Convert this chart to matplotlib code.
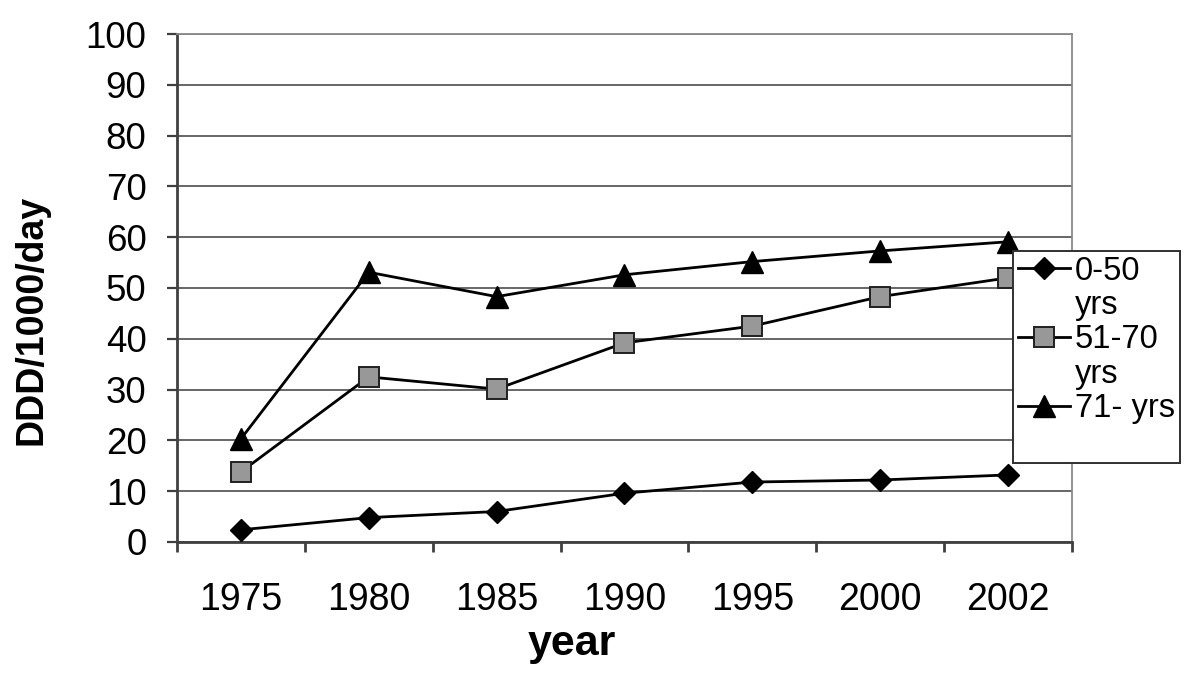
import matplotlib
matplotlib.use('Agg')
import matplotlib.pyplot as plt
from matplotlib.lines import Line2D

plt.rcParams['font.family'] = ['Liberation Sans', 'DejaVu Sans']

years = ['1975', '1980', '1985', '1990', '1995', '2000', '2002']
age_0_50 = [2.4, 4.8, 6.0, 9.6, 11.8, 12.2, 13.2]
age_51_70 = [13.8, 32.5, 30.1, 39.2, 42.5, 48.3, 52.0]
age_71 = [20.3, 53.1, 48.3, 52.6, 55.2, 57.3, 59.1]
y_ticks = list(range(0, 101, 10))

fig = plt.figure(figsize=(12, 6.79), dpi=100)
ax = fig.add_axes([0.1475, 0.2018, 0.7458, 0.7481])

x = list(range(len(years)))
l1, = ax.plot(x, age_0_50, color='black', lw=2, marker='D', ms=11.5,
              mfc='black', mec='black', zorder=3)
l2, = ax.plot(x, age_51_70, color='black', lw=2, marker='s', ms=14.5,
              mfc='#989898', mec='#202020', mew=1.4, zorder=3)
l3, = ax.plot(x, age_71, color='black', lw=2, marker='^', ms=16,
              mfc='black', mec='black', zorder=3)

ax.set_xlim(-0.5, len(years) - 0.5)
ax.set_ylim(0, 100)
ax.set_yticks(y_ticks)
ax.yaxis.grid(True, color='#5a5a5a', lw=1.3)
ax.set_axisbelow(True)

# category boundaries carry tick marks, labels sit at category centres
ax.set_xticks([i - 0.5 for i in range(len(years) + 1)])
ax.set_xticklabels([])
ax.set_xticks(x, minor=True)
ax.set_xticklabels(years, minor=True)
ax.tick_params(axis='x', which='major', direction='out', length=7, width=2, color='#404040')
ax.tick_params(axis='x', which='minor', length=0, pad=29, labelsize=27)
ax.tick_params(axis='y', direction='out', length=7, width=1.6, color='#404040', pad=15, labelsize=26.5)

for side in ['left', 'bottom']:
    ax.spines[side].set_color('#404040')
    ax.spines[side].set_linewidth(2)
for side in ['top', 'right']:
    ax.spines[side].set_color('#8a8a8a')
    ax.spines[side].set_linewidth(1.3)

ax.set_ylabel('DDD/1000/day', fontsize=27, fontweight='bold')
ax.yaxis.set_label_coords(-0.142, 0.437)
ax.set_xlabel('year', fontsize=31, fontweight='bold', va='top')
ax.xaxis.set_label_coords(0.4407, -0.161)

blank = Line2D([], [], linestyle='none')
leg = fig.legend([l1, blank, l2, blank, l3, blank],
                 ['0-50', 'yrs', '51-70', 'yrs', '71- yrs', ' '],
                 loc='upper left', bbox_to_anchor=(1013 / 1200, 1 - 251 / 679),
                 fontsize=23.5, frameon=True, fancybox=False, framealpha=1,
                 edgecolor='#303030', handlelength=1.6, handletextpad=0.15,
                 labelspacing=0.1, borderpad=0.15, borderaxespad=0)
leg.get_frame().set_linewidth(1.4)
leg.set_zorder(5)

fig.savefig('out.png', dpi=100)
